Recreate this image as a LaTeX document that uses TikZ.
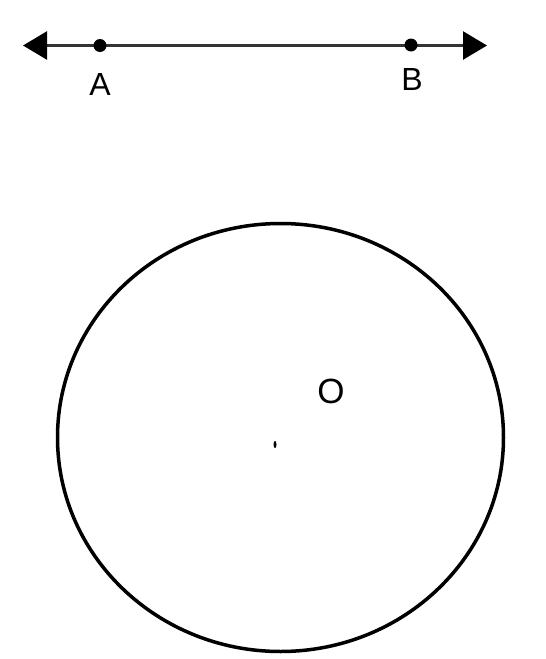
\documentclass[tikz,border=0pt]{standalone}
\usepackage{fontspec}
\setmainfont{Liberation Sans}
\usetikzlibrary{arrows.meta,shapes.geometric}
\begin{document}
\begin{tikzpicture}[x=1pt,y=-1pt,
  ptdot/.style={circle,fill=black,inner sep=0pt,minimum size=13pt},
  lbl/.style={inner sep=0pt,font=\fontsize{32}{32}\selectfont},
  olbl/.style={inner sep=0pt,font=\fontsize{35}{35}\selectfont},
  ray/.style={line width=2.5pt,color=black!80,{Triangle[length=24pt,width=28pt,color=black]}-{Triangle[length=24pt,width=28pt,color=black]}}]
\useasboundingbox (0,0) rectangle (546,659);
\coordinate (L) at (23,45.5);
\coordinate (R) at (487,45.5);
\draw[ray] (L) -- (R);
\node[ptdot] (A) at (100,45.5) {};
\node[ptdot] (B) at (411,45) {};
\node[lbl] (la) at (100,84) {A};
\node[lbl] (lb) at (412,79) {B};
\node[draw,ellipse,line width=3.5pt,inner sep=0pt,minimum width=446pt,minimum height=428pt] (circ) at (280.5,437.5) {};
\node[olbl] (lo) at (331,391) {O};
\node[ellipse,fill=black,inner sep=0pt,minimum width=3pt,minimum height=7pt] (ctr) at (275,444.5) {};
\end{tikzpicture}
\end{document}
